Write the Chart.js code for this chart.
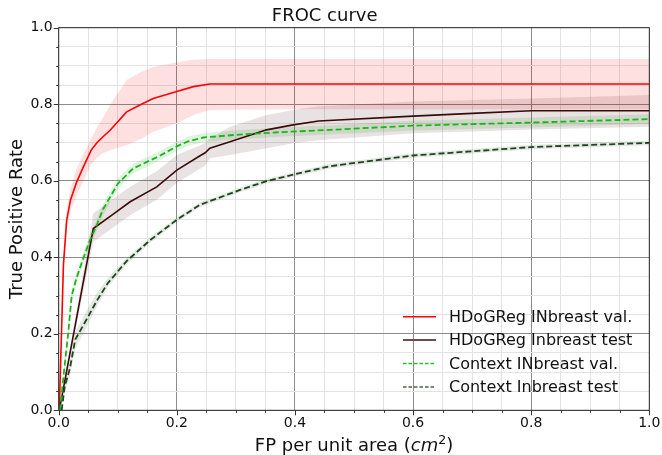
<!DOCTYPE html>
<html>
<head>
<meta charset="utf-8">
<script src="https://cdn.jsdelivr.net/npm/chart.js@4"></script>
<style>
  html, body { margin: 0; padding: 0; background: #fff; }
  #wrap { width: 662px; height: 455px; }
</style>
</head>
<body>
<div id="wrap"><canvas id="froc" width="662" height="455"></canvas></div>
<script>
// Noms des séries (légende)
const seriesNames = [
  'HDoGReg INbreast val.',
  'HDoGReg Inbreast test',
  'Context INbreast val.',
  'Context Inbreast test',
];

// HDoGReg INbreast val. (rouge)
const redX = [0.001, 0.008, 0.0135, 0.02, 0.03, 0.042, 0.055, 0.065, 0.075, 0.087, 0.115, 0.14, 0.16, 0.2, 0.228, 0.256, 0.4, 0.6, 0.8, 1.0];
const redY = [0, 0.38, 0.497, 0.55, 0.595, 0.637, 0.68, 0.7, 0.715, 0.732, 0.78, 0.8, 0.815, 0.833, 0.846, 0.853, 0.853, 0.853, 0.853, 0.853];
const redLo = [0, 0.36, 0.475, 0.52, 0.56, 0.6, 0.643, 0.66, 0.672, 0.68, 0.693, 0.71, 0.728, 0.75, 0.772, 0.785, 0.787, 0.787, 0.787, 0.787];
const redHi = [0, 0.4, 0.52, 0.58, 0.63, 0.67, 0.71, 0.74, 0.765, 0.798, 0.863, 0.885, 0.897, 0.91, 0.916, 0.918, 0.918, 0.918, 0.918, 0.918];

// HDoGReg Inbreast test (marron)
const brownX = [0.001, 0.0586, 0.09, 0.121, 0.166, 0.2, 0.24, 0.248, 0.256, 0.29, 0.352, 0.397, 0.44, 0.6, 0.7, 0.8, 1.0];
const brownY = [0, 0.475, 0.51, 0.545, 0.584, 0.628, 0.666, 0.673, 0.685, 0.702, 0.733, 0.746, 0.756, 0.769, 0.776, 0.783, 0.783];
const brownLo = [0, 0.44, 0.475, 0.51, 0.55, 0.595, 0.632, 0.64, 0.659, 0.667, 0.685, 0.698, 0.706, 0.724, 0.729, 0.734, 0.741];
const brownHi = [0, 0.515, 0.55, 0.584, 0.625, 0.667, 0.693, 0.7, 0.71, 0.741, 0.772, 0.785, 0.795, 0.807, 0.811, 0.815, 0.824];

// Context INbreast val. (vert clair)
const lightX = [0.002, 0.011, 0.016, 0.022, 0.03, 0.04, 0.053, 0.062, 0.075, 0.1, 0.126, 0.171, 0.2, 0.219, 0.245, 0.3, 0.375, 0.46, 0.6, 0.8, 1.0];
const lightY = [0, 0.13, 0.2, 0.3, 0.345, 0.39, 0.445, 0.475, 0.525, 0.592, 0.632, 0.665, 0.69, 0.703, 0.713, 0.72, 0.727, 0.733, 0.744, 0.752, 0.761];
const lightLo = [0, 0.115, 0.185, 0.285, 0.33, 0.375, 0.43, 0.46, 0.51, 0.578, 0.619, 0.653, 0.678, 0.691, 0.701, 0.708, 0.715, 0.721, 0.731, 0.739, 0.748];
const lightHi = [0, 0.145, 0.215, 0.315, 0.36, 0.405, 0.46, 0.49, 0.54, 0.606, 0.645, 0.677, 0.702, 0.715, 0.725, 0.732, 0.739, 0.745, 0.757, 0.765, 0.774];

// Context Inbreast test (vert foncé)
const darkX = [0.005, 0.01, 0.019, 0.028, 0.05, 0.064, 0.083, 0.115, 0.155, 0.2, 0.239, 0.307, 0.352, 0.4, 0.459, 0.6, 0.8, 1.0];
const darkY = [0, 0.06, 0.11, 0.185, 0.245, 0.285, 0.332, 0.39, 0.445, 0.498, 0.537, 0.576, 0.599, 0.617, 0.638, 0.666, 0.688, 0.699];
const darkLo = [0, 0.045, 0.09, 0.16, 0.225, 0.27, 0.322, 0.382, 0.438, 0.492, 0.531, 0.57, 0.593, 0.611, 0.632, 0.66, 0.682, 0.693];
const darkHi = [0, 0.075, 0.13, 0.205, 0.268, 0.305, 0.345, 0.398, 0.452, 0.504, 0.543, 0.582, 0.605, 0.623, 0.644, 0.672, 0.694, 0.705];

// Graduations des axes
const tickStep = 0.05;

const FONT = '"DejaVu Sans", "Liberation Sans", sans-serif';

// Couleurs : trait, bande, légende
const lineColors = ['#ff0000', '#3b0b0b', '#1fb41f', '#1d461d'];
const bandColors = ['rgba(255,0,0,0.12)', 'rgba(70,15,15,0.12)', 'rgba(0,170,0,0.13)', 'rgba(30,70,30,0.12)'];
const legendColors = ['#ff0000', '#6b4d4d', '#18c818', '#3e6b3e'];
const dashes = [[], [], [6, 3], [6, 3]];

function toPoints(xs, ys) {
  return xs.map((x, i) => ({ x: x, y: ys[i] }));
}

function isMajor(v) {
  return Math.abs(v * 5 - Math.round(v * 5)) < 1e-6;
}

const series = [
  [redX, redY, redLo, redHi],
  [brownX, brownY, brownLo, brownHi],
  [lightX, lightY, lightLo, lightHi],
  [darkX, darkY, darkLo, darkHi],
];

// Construit les datasets : bande basse, bande haute (remplie), courbe
const datasets = [];
series.forEach(([xs, ys, lo, hi], k) => {
  datasets.push({
    label: seriesNames[k] + ' lo',
    data: toPoints(xs, lo),
    borderWidth: 0,
    borderColor: 'rgba(0,0,0,0)',
    pointRadius: 0,
    fill: false,
    order: 20,
  });
  datasets.push({
    label: seriesNames[k] + ' hi',
    data: toPoints(xs, hi),
    borderWidth: 0,
    borderColor: 'rgba(0,0,0,0)',
    backgroundColor: bandColors[k],
    pointRadius: 0,
    fill: '-1',
    order: 20,
  });
  datasets.push({
    label: seriesNames[k],
    data: toPoints(xs, ys),
    borderColor: lineColors[k],
    borderWidth: k < 2 ? 1.6 : 1.8,
    borderDash: dashes[k],
    pointRadius: 0,
    fill: false,
    order: 4 - k,
  });
});

// Cadre, petites graduations, titre de l'axe x et légende
const decorPlugin = {
  id: 'decor',
  afterDraw(chart) {
    const { ctx, chartArea, scales } = chart;
    const { left, right, top, bottom } = chartArea;
    ctx.save();
    ctx.strokeStyle = '#333';
    ctx.lineWidth = 1;
    ctx.strokeRect(left, top, right - left, bottom - top);

    // graduations
    for (let i = 0; i <= 20; i++) {
      const v = i * tickStep;
      const len = isMajor(v) ? 5 : 2.5;
      const px = Math.round(scales.x.getPixelForValue(v)) + 0.5;
      const py = Math.round(scales.y.getPixelForValue(v)) + 0.5;
      ctx.beginPath();
      ctx.moveTo(px, bottom);
      ctx.lineTo(px, bottom + len);
      ctx.moveTo(left, py);
      ctx.lineTo(left - len, py);
      ctx.stroke();
    }

    // titre de l'axe x : FP per unit area (cm²)
    const parts = [
      { t: 'FP per unit area (', f: '18px ' + FONT, dy: 0 },
      { t: 'cm', f: 'italic 18px ' + FONT, dy: 0 },
      { t: '2', f: '12.5px ' + FONT, dy: -7 },
      { t: ')', f: '18px ' + FONT, dy: 0 },
    ];
    let total = 0;
    parts.forEach((p) => {
      ctx.font = p.f;
      p.w = ctx.measureText(p.t).width;
      total += p.w;
    });
    let x = (left + right) / 2 - total / 2;
    ctx.fillStyle = '#111';
    ctx.textBaseline = 'alphabetic';
    ctx.textAlign = 'left';
    parts.forEach((p) => {
      ctx.font = p.f;
      ctx.fillText(p.t, x, 451 + p.dy);
      x += p.w;
    });

    // légende
    const legendX = 403;
    const legendTop = 316.7;
    const rowGap = 23.4;
    ctx.font = '16px ' + FONT;
    ctx.textBaseline = 'middle';
    seriesNames.forEach((name, k) => {
      const y = legendTop + k * rowGap;
      ctx.beginPath();
      ctx.strokeStyle = legendColors[k];
      ctx.lineWidth = k === 1 ? 2 : 1.5;
      ctx.setLineDash(k >= 2 ? [3.5, 2] : []);
      ctx.moveTo(legendX, y);
      ctx.lineTo(legendX + 33, y);
      ctx.stroke();
      ctx.setLineDash([]);
      ctx.fillStyle = '#111';
      ctx.fillText(name, legendX + 46, y + 1);
    });
    ctx.restore();
  },
};

const gridColor = (c) => (isMajor(c.tick.value) ? '#8c8c8c' : '#e3e3e3');

new Chart(document.getElementById('froc'), {
  type: 'line',
  data: { datasets: datasets },
  plugins: [decorPlugin],
  options: {
    responsive: false,
    animation: false,
    layout: { padding: { left: 0, right: 12.7, top: 0, bottom: 0 } },
    plugins: {
      legend: { display: false },
      tooltip: { enabled: false },
      title: {
        display: true,
        text: 'FROC curve',
        color: '#111',
        font: { family: FONT, size: 18, weight: 'normal', lineHeight: 1.2 },
        padding: { top: 5.6, bottom: 0.5 },
      },
      filler: { propagate: false },
    },
    scales: {
      x: {
        type: 'linear',
        min: 0,
        max: 1,
        afterFit: (s) => {
          s.height = 44.7;
          s.paddingLeft = 0;
          s.paddingRight = 0;
        },
        grid: { color: gridColor, lineWidth: 1, drawTicks: false },
        border: { display: false },
        ticks: {
          stepSize: tickStep,
          autoSkip: false,
          maxRotation: 0,
          padding: 5,
          color: '#111',
          font: { family: FONT, size: 14 },
          callback: (v) => (isMajor(v) ? (Math.round(v * 5) / 5).toFixed(1) : ''),
        },
      },
      y: {
        type: 'linear',
        min: 0,
        max: 1,
        afterFit: (s) => {
          s.width = 58.7;
          s.paddingTop = 0;
          s.paddingBottom = 0;
        },
        grid: { color: gridColor, lineWidth: 1, drawTicks: false },
        border: { display: false },
        title: {
          display: true,
          text: 'True Positive Rate',
          color: '#111',
          font: { family: FONT, size: 18, lineHeight: 1.2 },
          padding: { top: 6.2, bottom: 0 },
        },
        ticks: {
          stepSize: tickStep,
          autoSkip: false,
          padding: 6,
          color: '#111',
          font: { family: FONT, size: 14 },
          callback: (v) => (isMajor(v) ? (Math.round(v * 5) / 5).toFixed(1) : ''),
        },
      },
    },
  },
});
</script>
</body>
</html>
